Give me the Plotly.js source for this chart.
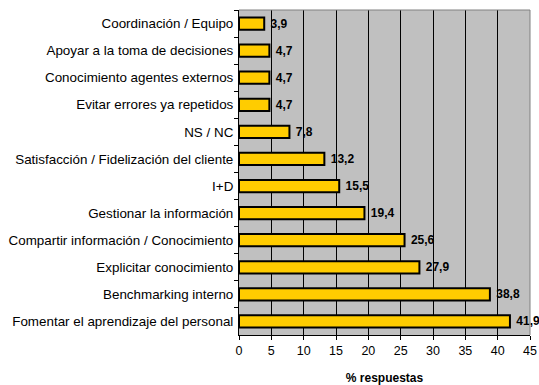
<!DOCTYPE html>
<html><head><meta charset="utf-8">
<script src="https://cdn.plot.ly/plotly-3.0.1.min.js"></script>
<style>html,body{margin:0;padding:0;background:#fff;}#chart{width:539px;height:385px;}</style>
</head><body><div id="chart"></div>
<script>
const categories = [
  "Coordinación / Equipo",
  "Apoyar a la toma de decisiones",
  "Conocimiento agentes externos",
  "Evitar errores ya repetidos",
  "NS / NC",
  "Satisfacción / Fidelización del cliente",
  "I+D",
  "Gestionar la información",
  "Compartir información / Conocimiento",
  "Explicitar conocimiento",
  "Benchmarking interno",
  "Fomentar el aprendizaje del personal"
];
const values = [3.9, 4.7, 4.7, 4.7, 7.8, 13.2, 15.5, 19.4, 25.6, 27.9, 38.8, 41.9];
const xTicks = [0,5,10,15,20,25,30,35,40,45];

const trace = {
  type: 'bar', orientation: 'h',
  y: categories, x: values,
  marker: {color: '#FFCC00', line: {color: '#000', width: 2}},
  width: 0.45,
  texttemplate: '\u00a0%{x:.1f}',
  textposition: 'outside',
  constraintext: 'none',
  cliponaxis: false,
  textfont: {family: 'Liberation Sans, Arial, sans-serif', size: 12, color: '#000', weight: 'bold'},
  hoverinfo: 'none'
};

const layout = {
  width: 539, height: 385,
  margin: {l: 239, r: 9, t: 10, b: 50},
  paper_bgcolor: '#fff', plot_bgcolor: '#C0C0C0',
  separators: ',.',
  font: {family: 'Liberation Sans, Arial, sans-serif', size: 13, color: '#000'},
  showlegend: false,
  bargap: 0,
  xaxis: {
    range: [0, 45], tickvals: xTicks, ticktext: xTicks.map(String),
    showgrid: true, gridcolor: '#000', gridwidth: 1,
    showline: true, linecolor: '#000', linewidth: 1,
    ticks: 'outside', ticklen: 4, tickcolor: '#000',
    tickfont: {size: 12.5},
    zeroline: false, fixedrange: true,
    title: {text: '% respuestas', font: {size: 12, weight: 'bold'}, standoff: 17}
  },
  yaxis: {
    type: 'category', autorange: 'reversed',
    showgrid: false, showline: true, linecolor: '#000', linewidth: 1,
    ticks: 'outside', ticklen: 4, tickcolor: '#000', tickson: 'boundaries',
    tickfont: {size: 13.4},
    ticklabelstandoff: 2, fixedrange: true
  },
  shapes: [
    {type: 'line', xref: 'paper', yref: 'paper', x0: 0, x1: 1, y0: 1, y1: 1, line: {color: '#808080', width: 1}},
    {type: 'line', xref: 'paper', yref: 'paper', x0: 1, x1: 1, y0: 0, y1: 1, line: {color: '#808080', width: 1}}
  ]
};

Plotly.newPlot('chart', [trace], layout, {displayModeBar: false, staticPlot: true});
</script></body></html>
